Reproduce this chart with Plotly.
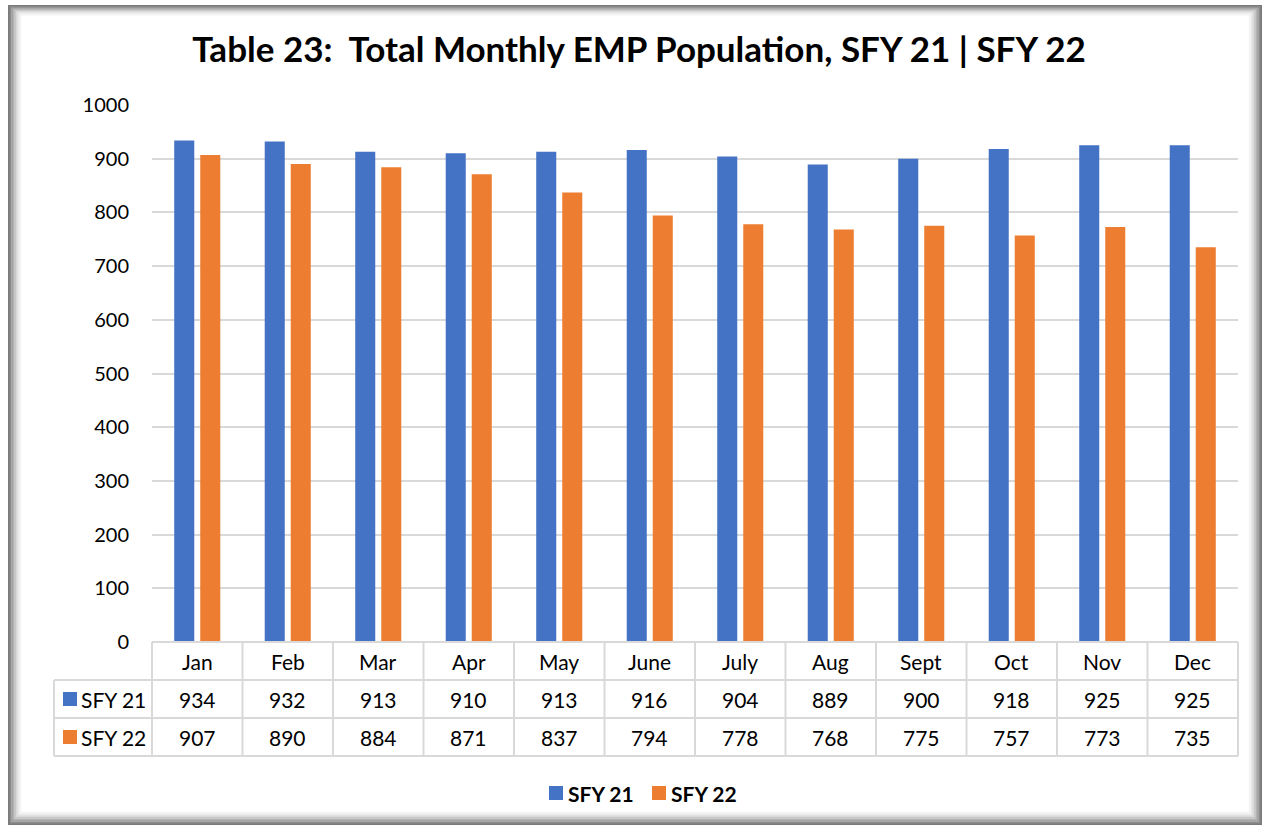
import plotly.graph_objects as go

months = ["Jan", "Feb", "Mar", "Apr", "May", "June", "July", "Aug", "Sept", "Oct", "Nov", "Dec"]
series_names = ["SFY 21", "SFY 22"]
sfy21 = [934, 932, 913, 910, 913, 916, 904, 889, 900, 918, 925, 925]
sfy22 = [907, 890, 884, 871, 837, 794, 778, 768, 775, 757, 773, 735]
series_values = [sfy21, sfy22]
colors = ["#4472C4", "#ED7D31"]
y_ticks = [0, 100, 200, 300, 400, 500, 600, 700, 800, 900, 1000]
title_text = "Table 23:  Total Monthly EMP Population, SFY 21 | SFY 22"

W, H = 1268, 826
ML, MR, MT, MB = 152, 30, 105, 184
PW = W - ML - MR
PH = H - MT - MB
FONT = "Lato, 'Open Sans', sans-serif"

def px(x):
    return (x - ML) / PW

def py(y):
    return (H - MB - y) / PH

fig = go.Figure()
for name, vals, c in zip(series_names, series_values, colors):
    fig.add_trace(go.Bar(x=months, y=vals, name=name, marker=dict(color=c, line=dict(width=0)),
                         showlegend=False))

shapes = []
annotations = []

# frame with shadow gradient
grays = ["#7a7a7a", "#8c8c8c", "#a0a0a0", "#b4b4b4", "#c8c8c8", "#dadada", "#e8e8e8", "#f3f3f3"]
for i, g in enumerate(grays):
    shapes.append(dict(type="rect", xref="paper", yref="paper",
                       x0=px(9 + i * 1.6), x1=px(W - 7 - i * 1.6),
                       y0=py(H - 2 - i * 1.6), y1=py(6 + i * 1.2),
                       line=dict(color=g, width=2), layer="below"))

# table grid
n = len(months)
cw = PW / n
lc = "#d9d9d9"
row_y = [H - MB, H - MB + 38, H - MB + 76, H - MB + 114]
for k in range(n + 1):
    xk = ML + k * cw
    shapes.append(dict(type="line", xref="paper", yref="paper", x0=px(xk), x1=px(xk),
                       y0=py(row_y[0]), y1=py(row_y[3]), line=dict(color=lc, width=2)))
shapes.append(dict(type="line", xref="paper", yref="paper", x0=px(54), x1=px(54),
                   y0=py(row_y[1]), y1=py(row_y[3]), line=dict(color=lc, width=2)))
for j, yy in enumerate(row_y):
    x0 = ML if j == 0 else 54
    shapes.append(dict(type="line", xref="paper", yref="paper", x0=px(x0), x1=px(ML + PW),
                       y0=py(yy), y1=py(yy), line=dict(color=lc, width=2)))

tfont = dict(family=FONT, size=21, color="#000000")
for k, m in enumerate(months):
    annotations.append(dict(x=m, xref="x", y=py((row_y[0] + row_y[1]) / 2), yref="paper",
                            text=m, showarrow=False, font=tfont, xanchor="center", yanchor="middle"))
for r, (name, vals, c) in enumerate(zip(series_names, series_values, colors)):
    yc = (row_y[r + 1] + row_y[r + 2]) / 2
    for m, v in zip(months, vals):
        annotations.append(dict(x=m, xref="x", y=py(yc), yref="paper", text=str(v), showarrow=False,
                                font=tfont, xanchor="center", yanchor="middle"))
    shapes.append(dict(type="rect", xref="paper", yref="paper", x0=px(63), x1=px(77),
                       y0=py(yc - 7), y1=py(yc + 7), fillcolor=c, line=dict(width=0)))
    annotations.append(dict(x=px(79), xref="paper", y=py(yc), yref="paper", text=name, showarrow=False,
                            font=tfont, xanchor="left", yanchor="middle"))

# bottom legend
leg_y = 793
leg_font = dict(family=FONT, size=21, color="#000000")
leg_x = [549, 652]
for name, c, lx in zip(series_names, colors, leg_x):
    shapes.append(dict(type="rect", xref="paper", yref="paper", x0=px(lx), x1=px(lx + 14),
                       y0=py(leg_y - 7), y1=py(leg_y + 7), fillcolor=c, line=dict(width=0)))
    annotations.append(dict(x=px(lx + 17), xref="paper", y=py(leg_y), yref="paper", text="<b>" + name + "</b>",
                            showarrow=False, font=leg_font, xanchor="left", yanchor="middle"))

fig.update_layout(
    width=W, height=H,
    margin=dict(l=ML, r=MR, t=MT, b=MB),
    paper_bgcolor="#ffffff", plot_bgcolor="#ffffff",
    title=dict(text="<b>" + title_text + "</b>", x=(198 + 1080) / 2 / W, xanchor="center",
               y=1 - 50 / H, yanchor="middle", font=dict(family=FONT, size=35, color="#000000")),
    barmode="group", bargap=0.425, bargroupgap=0.23,
    xaxis=dict(showticklabels=False, showgrid=False, showline=False, zeroline=False, ticks=""),
    yaxis=dict(range=[0, 1000], tickvals=y_ticks, showgrid=True, gridcolor="#d9d9d9", gridwidth=1.5,
               zeroline=False, showline=False, ticks="", ticklabelstandoff=22,
               tickfont=dict(family=FONT, size=20, color="#000000")),
    shapes=shapes, annotations=annotations,
    showlegend=False,
)

fig.write_html("out.html", config={"displayModeBar": False},
               post_script="document.body.style.margin='0px';document.body.style.overflow='hidden';")
